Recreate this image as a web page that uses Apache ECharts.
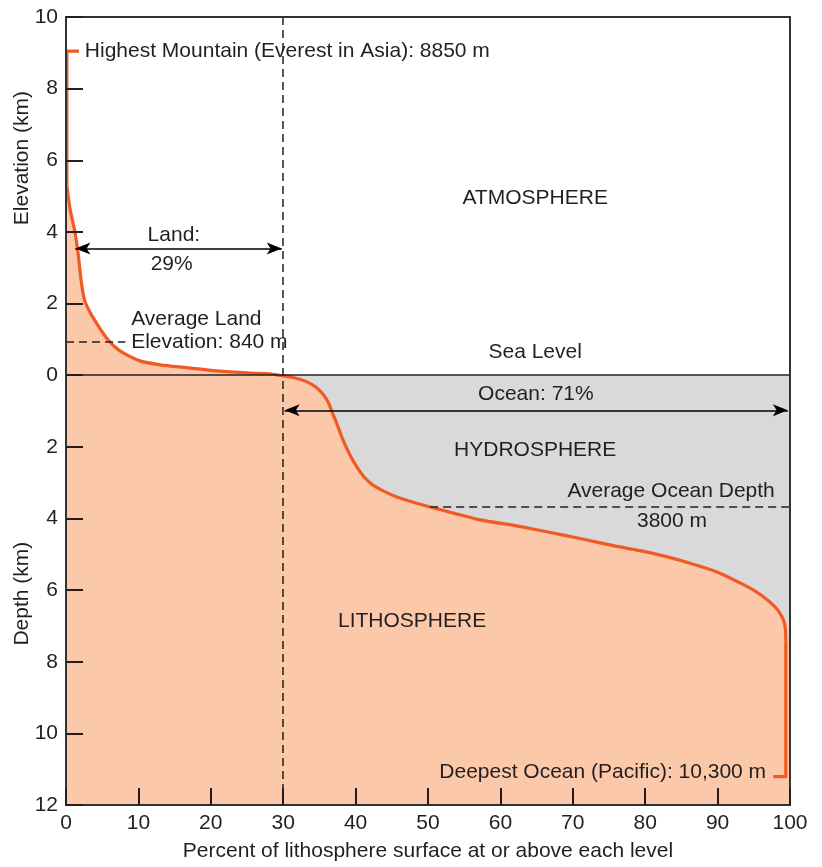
<!DOCTYPE html>
<html><head><meta charset="utf-8">
<script src="https://cdn.jsdelivr.net/npm/echarts@6/dist/echarts.min.js"></script>
<style>html,body{margin:0;padding:0;background:#fff}#c{width:822px;height:867px}</style>
</head><body><div id="c"></div>
<script>
// ---- data ----
const xTicks = [0, 10, 20, 30, 40, 50, 60, 70, 80, 90, 100];
const yTicks = [10, 8, 6, 4, 2, 0, -2, -4, -6, -8, -10, -12];
// highest mountain marker and summit drop (percent, km)
const peak = [[1.8, 9.05], [0.12, 9.05], [0.12, 5.3]];
// hypsographic curve (percent of surface at or above, elevation km; negative = depth)
const curve = [
  [0.12, 5.3], [0.55, 4.65], [1.24, 4.0], [1.7, 3.35], [2.17, 2.52], [2.62, 2.06],
  [3.2, 1.8], [3.77, 1.6], [4.7, 1.3], [5.6, 1.04], [6.7, 0.8], [7.9, 0.62],
  [10.2, 0.4], [13, 0.29], [16.7, 0.21], [20.8, 0.12], [25.4, 0.06], [28.2, 0.04],
  [29.6, -0.01], [31.5, -0.07], [33.2, -0.18], [34.5, -0.33], [35.5, -0.53], [36.2, -0.75],
  [36.7, -1.0], [37.5, -1.4], [38.3, -1.83], [39.2, -2.22], [40.2, -2.57], [41.2, -2.85],
  [42.4, -3.07], [44.0, -3.25], [45.7, -3.4], [48.0, -3.55], [50.3, -3.68], [53.5, -3.85],
  [57.2, -4.04], [62.0, -4.2], [66.4, -4.37], [71.0, -4.56], [75.6, -4.76], [79.3, -4.9],
  [82.8, -5.06], [86.2, -5.25], [90.0, -5.5], [93.1, -5.8], [95.2, -6.03], [96.8, -6.26],
  [97.9, -6.46], [98.6, -6.64], [99.1, -6.84], [99.35, -7.05], [99.42, -7.4]
];
// deepest ocean trench drop and marker
const trench = [[99.42, -7.4], [99.42, -11.21], [97.7, -11.21]];
const seaLevel = 0;
const avgLandElevation = 0.93;   // drawn position of the 840 m line
const avgOceanDepth = -3.68;     // drawn position of the 3800 m line
const landShare = 29;
const oceanShare = 71;
const landDivider = 30;

// ---- chart ----
const el = document.getElementById('c');
const chart = echarts.init(el, null, {renderer: 'canvas'});
const FONT = '"Liberation Sans", Arial, Helvetica, sans-serif';
const TXT = '#231f20';
const FS = 21;
const SMOOTH = 0.25;

const areaData = curve.concat([[100, curve[curve.length - 1][1]]]);
const oceanData = [[curve.find(p => p[1] <= seaLevel)[0], seaLevel], [100, seaLevel]];

const dashed = {color: '#231f20', width: 1.5, type: [8, 5]};
const arrowSym = {symbol: 'arrow', symbolSize: [9, 15]};
const orange = {color: '#f15a24', width: 3.2, join: 'round', cap: 'butt'};

chart.setOption({
  animation: false,
  backgroundColor: '#fff',
  grid: {left: 66, right: 32, top: 17, bottom: 57, show: true, z: 20, borderColor: '#333', borderWidth: 2, backgroundColor: 'transparent', containLabel: false},
  xAxis: {
    type: 'value', min: 0, max: 100, interval: 10, z: 20,
    axisLine: {show: true, onZero: false, lineStyle: {color: '#333', width: 2}},
    axisTick: {show: true, inside: true, length: 17, lineStyle: {color: '#231f20', width: 2}},
    axisLabel: {color: TXT, fontSize: FS, fontFamily: FONT, margin: 8},
    splitLine: {show: false},
    name: 'Percent of lithosphere surface at or above each level',
    nameLocation: 'middle', nameGap: 36,
    nameTextStyle: {color: TXT, fontSize: FS, fontFamily: FONT}
  },
  yAxis: {
    type: 'value', min: -12, max: 10, interval: 2, z: 20,
    axisLine: {show: true, onZero: false, lineStyle: {color: '#333', width: 2}},
    axisTick: {show: true, inside: true, length: 17, lineStyle: {color: '#231f20', width: 2}},
    axisLabel: {color: TXT, fontSize: FS, fontFamily: FONT, margin: 8, formatter: v => String(Math.abs(v))},
    splitLine: {show: false}
  },
  series: [
    {
      type: 'line', data: oceanData, symbol: 'none', silent: true, z: 1,
      lineStyle: {width: 0}, areaStyle: {color: '#d9d9d9', origin: 'start', opacity: 1}
    },
    {
      type: 'line', data: areaData, symbol: 'none', silent: true, z: 2, smooth: SMOOTH,
      lineStyle: {width: 0}, areaStyle: {color: '#fbc9aa', origin: 'start', opacity: 1}
    },
    {
      type: 'line', data: peak.slice(1), symbol: 'none', silent: true, z: 2,
      lineStyle: {width: 0}, areaStyle: {color: '#fbc9aa', origin: 'start', opacity: 1}
    },
    {
      type: 'line', data: [], symbol: 'none', silent: true, z: 3,
      markLine: {
        silent: true, symbol: 'none', animation: false,
        label: {show: false},
        data: [
          [{coord: [0, seaLevel], lineStyle: {color: '#231f20', width: 1.5, type: 'solid'}}, {coord: [100, seaLevel]}],
          [{coord: [landDivider, 10], lineStyle: dashed}, {coord: [landDivider, -12]}],
          [{coord: [0, avgLandElevation], lineStyle: dashed}, {coord: [8.2, avgLandElevation]}],
          [{coord: [50.3, avgOceanDepth], lineStyle: dashed}, {coord: [100, avgOceanDepth]}],
          [Object.assign({coord: [1.3, 3.54], lineStyle: {color: '#000', width: 1.5, type: 'solid'}}, arrowSym),
           Object.assign({coord: [landDivider - 0.2, 3.54]}, arrowSym)],
          [Object.assign({coord: [landDivider + 0.2, -0.98], lineStyle: {color: '#000', width: 1.5, type: 'solid'}}, arrowSym),
           Object.assign({coord: [99.7, -0.98]}, arrowSym)]
        ]
      }
    },
    {type: 'line', data: peak, symbol: 'none', silent: true, z: 4, lineStyle: orange},
    {type: 'line', data: curve, symbol: 'none', silent: true, z: 4, smooth: SMOOTH, lineStyle: orange},
    {type: 'line', data: trench, symbol: 'none', silent: true, z: 4, lineStyle: orange}
  ]
});

function P(x, y) { return chart.convertToPixel({gridIndex: 0}, [x, y]); }
function T(text, x, y, align) {
  const p = P(x, y);
  return {
    type: 'text', x: p[0], y: p[1], silent: true, z: 100,
    style: {text: text, fill: TXT, font: FS + 'px ' + FONT, align: align || 'center', verticalAlign: 'middle'}
  };
}
const g = [
  T('Highest Mountain (Everest in Asia): 8850 m', 2.6, 9.05, 'left'),
  T('ATMOSPHERE', 64.8, 4.95),
  T('Land:', 14.9, 3.92),
  T(landShare + '%', 14.6, 3.09),
  T('Average Land', 9.0, 1.57, 'left'),
  T('Elevation: 840 m', 9.0, 0.93, 'left'),
  T('Sea Level', 64.8, 0.65),
  T('Ocean: ' + oceanShare + '%', 64.9, -0.54),
  T('HYDROSPHERE', 64.8, -2.09),
  T('Average Ocean Depth', 97.9, -3.23, 'right'),
  T('3800 m', 83.7, -4.09),
  T('LITHOSPHERE', 47.8, -6.87),
  T('Deepest Ocean (Pacific): 10,300 m', 96.7, -11.08, 'right'),
  {type: 'text', x: 22, y: P(0, 6.06)[1], rotation: Math.PI / 2, silent: true, z: 100,
   style: {text: 'Elevation (km)', fill: TXT, font: FS + 'px ' + FONT, align: 'center', verticalAlign: 'middle'}},
  {type: 'text', x: 22, y: P(0, -6.1)[1], rotation: Math.PI / 2, silent: true, z: 100,
   style: {text: 'Depth (km)', fill: TXT, font: FS + 'px ' + FONT, align: 'center', verticalAlign: 'middle'}}
];
chart.setOption({graphic: g});
</script>
</body></html>
